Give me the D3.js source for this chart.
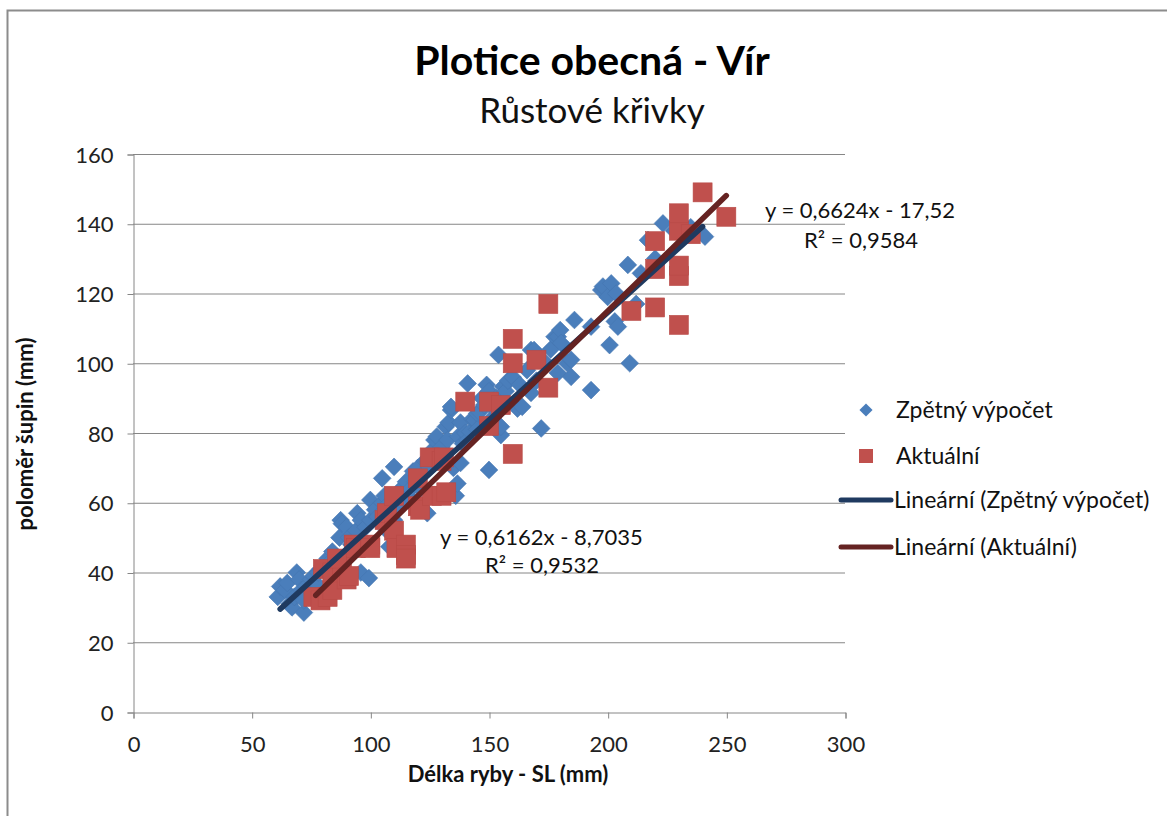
<!DOCTYPE html>
<html>
<head>
<meta charset="utf-8">
<script src="https://cdn.jsdelivr.net/npm/d3@7"></script>
<style>
  html, body { margin: 0; padding: 0; background: #fff; }
  svg { display: block; font-family: Lato, "Open Sans", "Noto Sans", sans-serif; }
</style>
</head>
<body>
<svg id="chart" width="1167" height="816"></svg>
<script>
// Zpětný výpočet (back-calculated) — délka SL (mm), poloměr šupin (mm)
const zpetnyX = [61,62,64,65,66,67,68,69,70,71,72,72,73,75,76,77,78,79,80,82,83,84,86,87,87.5,88,90,91,92,94,94.5,96,96,98,99.4,100,100,
  102,103,105,105,106,107,108,108,110,110,111,112,113,114,115,116,117,118,119,120,121,122,123,124,124,125,126,127,128,129,130,
  131.8,132.5,133,134,134,135,136,136.7,137,138,138,139,140,141,141,142,143,144,145,145,146,147,148,149,150,150,151,152,153,154,155,155,156,157,158,160,
  162,163,164,166,167.7,167.7,169,170,172,174,176,177.6,179,179,180,180.4,183,184.6,184.6,186,193,193,197.3,198,
  200,200.8,201.5,203,203.6,204.3,208.5,209.3,212,214,217,220,223.3,228,235,241];
const zpetnyY = [33,36,35,37,31,30,33,40,38,35,28.5,32,36,38,39,37,40,41,42,44,43,46,44.5,50,55,54,53,50,48,52,57,40,55,53,38.4,60.8,55,
  58,56,67,60,62,52,47.4,60,70.3,55,58,62,64,60,66,62,64,69,66,70,64,68,72,57,72,70,75,78,79,74,76,
  81.8,78,83,86.6,87.5,70,62,65.5,79,71.4,83,77,80,78,94.2,80.4,84,83.7,85.6,81,86,90,88,93.8,69.4,92,84,87,90,102.4,79.4,81.8,93.3,92,95,96,
  87,93.8,87.5,98,91.5,103.8,103.8,95,81.3,100,104,107.6,107.6,97.2,109.5,105.8,100,101,96.1,112.4,110.5,92.3,121,122,
  119,105.2,122.9,112,120,110.5,128.2,100,117,125.8,135.3,130,140.1,138,139,136.3];

// Aktuální (actual) — délka SL (mm), poloměr šupin (mm)
const aktualniX = [76,79,82,84,80,84,88,90,91,86,93,94,100,100,106,107,110,110,111,115,115,115,120,120,121,125,126,130,130,131,132,
  140,150,150,155,160,160,160,170,175,175,210,220,220,220,230,230,230,230,230,235,240,250];
const aktualniY = [33,32,33,35,41,40,42,38,39,44,48,47,48,47,55,57,52,62,47,48,45,44,59,67,58,73,62,62,72,73,63,
  89,89,82,88,107,100,74,101,93,117,115,116,127,135,111,125,128,138,143,137,149,142];

// Lineární spojnice trendu: sklon, posun, R², rozsah délek
const trendNames = ["Lineární (Zpětný výpočet)", "Lineární (Aktuální)"];
const trendSlope = [0.6162, 0.6624];
const trendIntercept = [-8.7035, -17.52];
const trendR2 = [0.9532, 0.9584];
const trendXFrom = [62, 77];
const trendXTo = [240, 250];

const xTicks = [0, 50, 100, 150, 200, 250, 300];
const yTicks = [0, 20, 40, 60, 80, 100, 120, 140, 160];

const svg = d3.select("#chart");
const W = 1167, H = 816;

svg.append("rect").attr("width", W).attr("height", H).attr("fill", "#fff");
// chart frame (left and top edges visible)
svg.append("rect").attr("x", 7.5).attr("y", 10.5).attr("width", 1300).attr("height", 1000)
  .attr("fill", "none").attr("stroke", "#8c8c8c").attr("stroke-width", 2);

const plot = { left: 133, right: 845, top: 154, bottom: 712 };
const x = d3.scaleLinear().domain([0, 300]).range([plot.left, plot.right]);
const y = d3.scaleLinear().domain([0, 160]).range([plot.bottom, plot.top]);

const axisColor = "#868686";

// gridlines
svg.append("g").selectAll("line").data(yTicks.filter(d => d > 0)).join("line")
  .attr("x1", plot.left).attr("x2", plot.right)
  .attr("y1", d => y(d) + 0.5).attr("y2", d => y(d) + 0.5)
  .attr("stroke", axisColor).attr("stroke-width", 1);

// axes
const yAxis = svg.append("g").attr("transform", `translate(${plot.left + 0.5},0.5)`)
  .call(d3.axisLeft(y).tickValues(yTicks).tickSize(6).tickPadding(14).tickFormat(d3.format("d")));
const xAxis = svg.append("g").attr("transform", `translate(0.5,${plot.bottom + 0.5})`)
  .call(d3.axisBottom(x).tickValues(xTicks).tickSize(6).tickPadding(18).tickFormat(d3.format("d")));
[xAxis, yAxis].forEach(g => {
  g.select(".domain").attr("stroke", axisColor);
  g.selectAll(".tick line").attr("stroke", axisColor);
  g.selectAll(".tick text").attr("fill", "#222").style("font-size", "22px")
    .style("font-family", "Lato, 'Open Sans', sans-serif");
});
yAxis.selectAll(".tick text").attr("dy", "0.35em");

// markers
const diamond = d3.symbol().type(d3.symbolDiamond2).size(200);
const zp = zpetnyX.map((v, i) => [v, zpetnyY[i]]);
const ak = aktualniX.map((v, i) => [v, aktualniY[i]]);

svg.append("g").selectAll("path").data(zp).join("path")
  .attr("d", diamond)
  .attr("transform", d => `translate(${x(d[0])},${y(d[1])})`)
  .attr("fill", "#4a7ebb").attr("stroke", "#4575b0").attr("stroke-width", 0.6);

const sq = 19;
svg.append("g").selectAll("rect").data(ak).join("rect")
  .attr("x", d => x(d[0]) - sq / 2).attr("y", d => y(d[1]) - sq / 2)
  .attr("width", sq).attr("height", sq)
  .attr("fill", "#c0504d").attr("stroke", "#b84a47").attr("stroke-width", 0.6);

// trend lines
const trendColors = ["#1f3a60", "#652322"];
const line = d3.line().x(d => x(d[0])).y(d => y(d[1]));
trendSlope.forEach((k, i) => {
  const pts = [trendXFrom[i], trendXTo[i]].map(v => [v, k * v + trendIntercept[i]]);
  svg.append("path").attr("d", line(pts)).attr("fill", "none")
    .attr("stroke", trendColors[i]).attr("stroke-width", 5.5).attr("stroke-linecap", "round");
});

// equations
const fmt = v => String(v).replace(".", ",");
const eqPos = [[440, 545, 485, 573], [765, 218, 804, 248]];
trendSlope.forEach((k, i) => {
  const b = trendIntercept[i];
  const eq = `y = ${fmt(k)}x ${b < 0 ? "-" : "+"} ${fmt(Math.abs(b))}`;
  const p = eqPos[i];
  svg.append("text").attr("x", p[0]).attr("y", p[1]).text(eq)
    .style("font-size", "22px").attr("fill", "#111");
  svg.append("text").attr("x", p[2]).attr("y", p[3]).text(`R² = ${fmt(trendR2[i])}`)
    .style("font-size", "22px").attr("fill", "#111");
});

// title
svg.append("text").attr("x", 592).attr("y", 75).attr("text-anchor", "middle")
  .style("font-size", "41px").style("font-weight", "bold").attr("fill", "#000")
  .text("Plotice obecná - Vír");
svg.append("text").attr("x", 592).attr("y", 123).attr("text-anchor", "middle")
  .style("font-size", "35px").attr("fill", "#111")
  .text("Růstové křivky");

// axis titles
svg.append("text").attr("x", 508).attr("y", 782).attr("text-anchor", "middle")
  .style("font-size", "22px").style("font-weight", "bold").attr("fill", "#111")
  .text("Délka ryby - SL (mm)");
svg.append("text").attr("transform", "translate(33,434) rotate(-90)").attr("text-anchor", "middle")
  .style("font-size", "22px").style("font-weight", "bold").attr("fill", "#111")
  .text("poloměr šupin (mm)");

// legend
const lg = svg.append("g");
const legendRows = [
  { label: "Zpětný výpočet", kind: "diamond", y: 410 },
  { label: "Aktuální", kind: "square", y: 456 },
  { label: trendNames[0], kind: "line", color: trendColors[0], y: 500 },
  { label: trendNames[1], kind: "line", color: trendColors[1], y: 547 }
];
legendRows.forEach(r => {
  if (r.kind === "diamond") {
    lg.append("path").attr("d", d3.symbol().type(d3.symbolDiamond2).size(110)())
      .attr("transform", `translate(866,${r.y})`).attr("fill", "#4a7ebb");
  } else if (r.kind === "square") {
    lg.append("rect").attr("x", 859).attr("y", r.y - 7).attr("width", 14).attr("height", 14)
      .attr("fill", "#c0504d");
  } else {
    lg.append("line").attr("x1", 841).attr("x2", 891).attr("y1", r.y).attr("y2", r.y)
      .attr("stroke", r.color).attr("stroke-width", 5).attr("stroke-linecap", "round");
  }
  lg.append("text").attr("x", r.kind === "line" ? 894 : 896).attr("y", r.y).attr("dy", "0.35em")
    .style("font-size", "23px").attr("fill", "#111").text(r.label);
});
</script>
</body>
</html>
